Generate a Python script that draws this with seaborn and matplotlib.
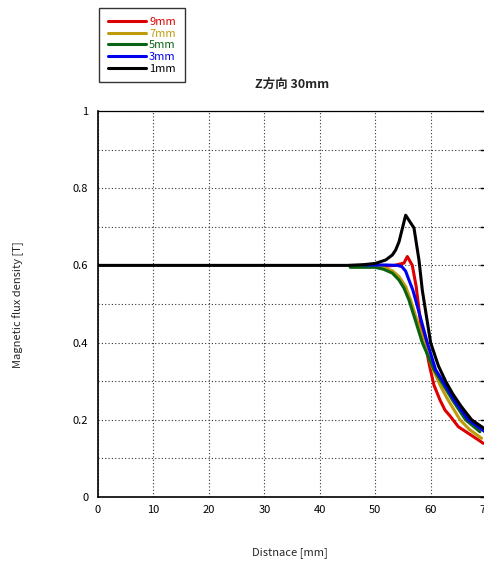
import matplotlib
matplotlib.use("Agg")
import matplotlib.pyplot as plt
import seaborn as sns
import pandas as pd
from matplotlib.ticker import MultipleLocator

# Data (distance [mm], flux density [T])
labels = ["9mm", "7mm", "5mm", "3mm", "1mm"]
colors = ["#DC0000", "#BE9B0A", "#0A6414", "#0000F0", "#000000"]

x_9mm = [45.5, 48, 50, 52, 53.5, 55.2, 55.8, 56.7, 57.4, 58.2, 59.0, 59.8, 60.6, 61.7, 62.6, 63.5, 65.0, 66.8, 68.6, 69.5]
y_9mm = [0.597, 0.597, 0.597, 0.598, 0.600, 0.606, 0.623, 0.600, 0.545, 0.45, 0.40, 0.34, 0.29, 0.251, 0.225, 0.21, 0.182, 0.165, 0.148, 0.139]

x_7mm = [45.5, 50, 51.5, 53.1, 54.3, 55.5, 56.4, 57.5, 58.8, 60.2, 61.7, 63.0, 65.3, 67.0, 69.2]
y_7mm = [0.597, 0.597, 0.594, 0.586, 0.571, 0.545, 0.51, 0.46, 0.40, 0.34, 0.29, 0.255, 0.20, 0.175, 0.152]

x_5mm = [45.5, 50, 51.5, 53.1, 54.3, 55.2, 56.1, 57.2, 58.5, 60.6, 62.1, 64.0, 66.3, 68.9]
y_5mm = [0.595, 0.595, 0.59, 0.58, 0.562, 0.541, 0.51, 0.46, 0.40, 0.33, 0.295, 0.25, 0.20, 0.169]

x_3mm = [48, 50, 52, 54, 54.8, 55.5, 56.1, 56.8, 57.5, 59.4, 60.9, 62.4, 64.5, 66.8, 69.8]
y_3mm = [0.601, 0.601, 0.601, 0.600, 0.597, 0.585, 0.562, 0.536, 0.50, 0.40, 0.33, 0.295, 0.245, 0.20, 0.169]

x_1mm = [0, 45, 48, 50, 51.9, 53.1, 53.7, 54.3, 55.5, 57.0, 57.9, 58.5, 60.0, 61.4, 62.7, 64.0, 65.5, 67.4, 69.8]
y_1mm = [0.600, 0.600, 0.602, 0.605, 0.614, 0.627, 0.640, 0.661, 0.730, 0.697, 0.614, 0.536, 0.40, 0.34, 0.30, 0.267, 0.235, 0.20, 0.176]

xs_all = [x_9mm, x_7mm, x_5mm, x_3mm, x_1mm]
ys_all = [y_9mm, y_7mm, y_5mm, y_3mm, y_1mm]

x_ticks = [0, 10, 20, 30, 40, 50, 60, 70]
y_ticks = [0, 0.2, 0.4, 0.6, 0.8, 1]
y_tick_labels = ["0", "0.2", "0.4", "0.6", "0.8", "1"]

sns.set_style("white")
plt.rcParams["font.family"] = ["Noto Sans CJK JP", "DejaVu Sans"]

fig = plt.figure(figsize=(4.84, 5.62), dpi=100)
ax = fig.add_axes([0.2025, 0.1157, 0.8017, 0.6868])

for xs, ys, color in zip(xs_all, ys_all, colors):
    df = pd.DataFrame({"x": xs, "y": ys})
    sns.lineplot(data=df, x="x", y="y", ax=ax, color=color, linewidth=2.2,
                 sort=False, estimator=None, legend=False)

ax.set_xlim(0, 70)
ax.set_ylim(0, 1)
ax.set_xticks(x_ticks)
ax.set_yticks(y_ticks)
ax.set_yticklabels(y_tick_labels)
ax.yaxis.set_minor_locator(MultipleLocator(0.1))
ax.grid(True, which="both", color="#333333", linestyle=(0, (1, 2)), linewidth=0.8)
ax.tick_params(which="both", direction="in", length=4, width=1,
               right=True, labelsize=8, colors="black")
ax.tick_params(axis="y", pad=7)
ax.tick_params(axis="x", pad=6)
ax.set_xlabel("")
ax.set_ylabel("")
for name, sp in ax.spines.items():
    sp.set_color("black")
    sp.set_linewidth(1.2 if name in ("left", "bottom") else 0.9)

ax.set_title("Z方向 30mm", fontsize=9, fontweight="bold", pad=17)
fig.text(290 / 484, 1 - 553 / 562, "Distnace [mm]", ha="center", va="center", fontsize=8)
fig.text(18 / 484, 1 - 305 / 562, "Magnetic flux density [T]", ha="center", va="center",
         rotation=90, fontsize=8)

handles = ax.get_lines()[:len(labels)]
leg = fig.legend(handles, labels, loc="upper left", bbox_to_anchor=(99 / 484, 1 - 8 / 562),
                 fontsize=8, handlelength=3.4, handletextpad=0.3, labelspacing=0.15,
                 borderpad=0.8, fancybox=False, frameon=True, borderaxespad=0)
leg.get_frame().set_edgecolor("black")
leg.get_frame().set_linewidth(1.0)
for txt, color in zip(leg.get_texts(), colors):
    txt.set_color(color)

fig.savefig("out.png", dpi=100)
